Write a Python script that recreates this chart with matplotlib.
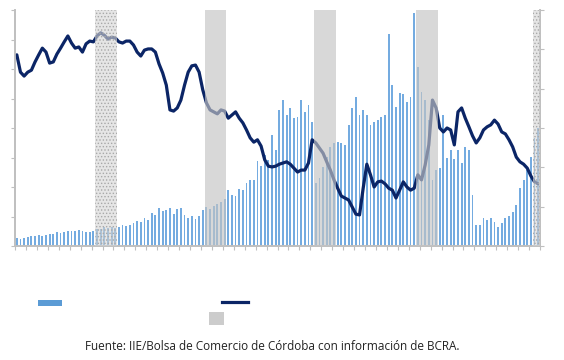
import numpy as np
import matplotlib
matplotlib.use('Agg')
import matplotlib.pyplot as plt
from matplotlib.patches import Rectangle
from matplotlib.lines import Line2D

# barras (eje izquierdo), 144 meses
barras = [0.27, 0.24, 0.27, 0.31, 0.34, 0.34, 0.37, 0.34, 0.37, 0.41, 0.41, 0.47,
          0.44, 0.47, 0.51, 0.51, 0.51, 0.54, 0.51, 0.47, 0.47, 0.51, 0.58, 0.58,
          0.64, 0.61, 0.64, 0.61, 0.64, 0.71, 0.68, 0.71, 0.78, 0.85, 0.81, 0.95,
          0.88, 1.12, 1.05, 1.29, 1.19, 1.22, 1.29, 1.08, 1.25, 1.29, 1.05, 0.95,
          1.02, 0.92, 1.02, 1.22, 1.32, 1.25, 1.36, 1.42, 1.49, 1.59, 1.90, 1.73,
          1.69, 1.93, 1.90, 2.14, 2.24, 2.24, 2.88, 2.71, 3.08, 2.92, 3.76, 3.25,
          4.61, 4.95, 4.44, 4.68, 4.34, 4.37, 4.95, 4.54, 4.78, 4.20, 2.14, 2.31,
          2.68, 3.02, 3.36, 3.49, 3.53, 3.49, 3.42, 4.10, 4.68, 5.05, 4.44, 4.61,
          4.44, 4.10, 4.20, 4.27, 4.37, 4.44, 7.19, 5.46, 4.71, 5.19, 5.15, 4.88,
          5.05, 7.90, 6.07, 5.22, 4.95, 4.27, 2.24, 2.58, 2.64, 4.44, 2.98, 3.25,
          2.95, 3.25, 2.81, 3.36, 3.25, 1.73, 0.71, 0.71, 0.95, 0.88, 0.95, 0.81,
          0.64, 0.78, 0.95, 1.02, 1.15, 1.39, 1.97, 2.24, 2.58, 3.02, 3.66, 4.00]

# linea (eje derecho)
linea = [4.86, 4.42, 4.32, 4.42, 4.47, 4.68, 4.86, 5.03, 4.93, 4.65, 4.68, 4.88,
         5.03, 5.19, 5.34, 5.16, 5.03, 5.06, 4.93, 5.14, 5.21, 5.19, 5.34, 5.42,
         5.36, 5.26, 5.31, 5.29, 5.19, 5.16, 5.21, 5.21, 5.11, 4.93, 4.83, 4.98,
         5.01, 5.01, 4.93, 4.63, 4.40, 4.09, 3.46, 3.43, 3.51, 3.71, 4.09, 4.42,
         4.58, 4.60, 4.42, 3.97, 3.64, 3.46, 3.41, 3.36, 3.46, 3.43, 3.25, 3.33,
         3.41, 3.25, 3.13, 2.95, 2.75, 2.64, 2.70, 2.54, 2.19, 2.03, 2.01, 2.03,
         2.08, 2.11, 2.14, 2.08, 1.98, 1.88, 1.93, 1.93, 2.11, 2.70, 2.62, 2.49,
         2.36, 2.14, 1.93, 1.68, 1.47, 1.27, 1.22, 1.17, 0.99, 0.81, 0.79, 1.47,
         2.08, 1.81, 1.50, 1.63, 1.65, 1.58, 1.47, 1.42, 1.22, 1.42, 1.63, 1.50,
         1.42, 1.47, 1.81, 1.68, 2.06, 2.57, 3.71, 3.51, 3.00, 2.90, 3.00, 2.95,
         2.57, 3.41, 3.51, 3.25, 3.03, 2.80, 2.62, 2.75, 2.95, 3.03, 3.08, 3.20,
         3.10, 2.90, 2.85, 2.70, 2.52, 2.26, 2.14, 2.08, 1.98, 1.78, 1.63, 1.58]

# periodos sombreados (inicio, fin) en indice de mes
sombra_ini = [21.5, 51.5, 81.5, 109.5, 141.5]
sombra_fin = [27.5, 57.5, 87.5, 115.5, 147.5]
sombra_rayada = [True, False, False, False, True]

meses = np.arange(len(barras))

fig = plt.figure(figsize=(5.64, 3.6), dpi=100)
ax = fig.add_axes([15/564, 114/360, 525/564, 236/360])
ax2 = ax.twinx()

gris = '#bfbfbf'
ax.bar(meses, barras, width=0.5, color='#74abe0', zorder=1)
ax2.plot(meses, linea, color='#0b2566', lw=2.3, zorder=2, solid_capstyle='round')

plt.rcParams['hatch.color'] = '#a8a8a8'
plt.rcParams['hatch.linewidth'] = 0.6
for a, b, r in zip(sombra_ini, sombra_fin, sombra_rayada):
    if r:
        ax2.axvspan(a, b, facecolor='#d4d4d4', alpha=0.6, hatch='.....', lw=0, zorder=3)
    else:
        ax2.axvspan(a, b, facecolor='#c4c4c4', alpha=0.65, lw=0, zorder=3)

ax.set_xlim(-0.5, len(barras) - 0.5)
ax.set_ylim(0, 8)
ax2.set_ylim(0, 6)
ax.set_yticks(range(9))
ax2.set_yticks(range(7))
ax.set_xticks(np.arange(-0.5, len(barras), 3))
ax.set_xticklabels([])
ax.set_yticklabels([])
ax2.set_yticklabels([])

for a in (ax, ax2):
    a.spines['top'].set_visible(False)
    for s in ('left', 'right', 'bottom'):
        a.spines[s].set_color(gris)
        a.spines[s].set_linewidth(1.2)
    a.tick_params(colors=gris, length=3, width=0.8)

# leyenda (sin texto)
fig.add_artist(Rectangle((38/564, 1 - 306/360), 24/564, 6/360, transform=fig.transFigure,
                         facecolor='#5b9bd5', edgecolor='none'))
fig.add_artist(Line2D([222/564, 248/564], [1 - 302/360, 1 - 302/360], transform=fig.transFigure,
                      color='#0b2566', lw=2.3))
fig.add_artist(Rectangle((209/564, 1 - 325/360), 15/564, 13/360, transform=fig.transFigure,
                         facecolor='#cccccc', edgecolor='none', hatch='.....'))

fig.text(272/564, 1 - 347/360, 'Fuente: IIE/Bolsa de Comercio de Córdoba con información de BCRA.',
         ha='center', va='center', fontsize=8.5, family='Open Sans', color='#222222')

fig.savefig('out.png', dpi=100)
